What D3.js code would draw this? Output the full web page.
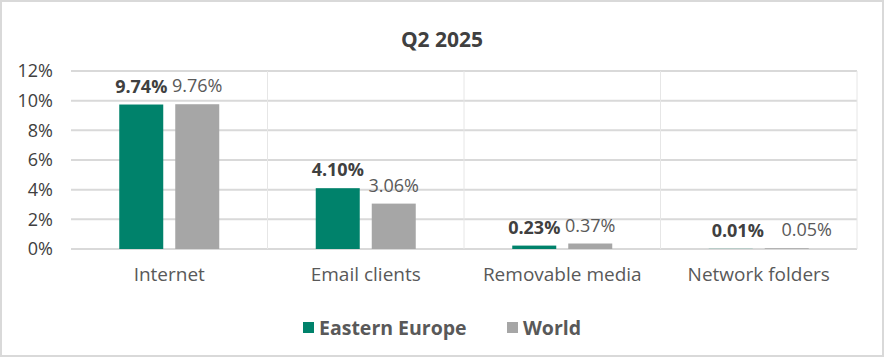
<!DOCTYPE html>
<html><head><meta charset="utf-8">
<script src="https://cdn.jsdelivr.net/npm/d3@7"></script>
<style>body{margin:0;background:#fff}svg{display:block}text{font-family:"Open Sans",sans-serif}</style>
</head><body><svg id="c" width="884" height="357"></svg>
<script>
const title = "Q2 2025";
const categories = ["Internet", "Email clients", "Removable media", "Network folders"];
const seriesNames = ["Eastern Europe", "World"];
const easternEurope = [9.74, 4.10, 0.23, 0.01];
const world = [9.76, 3.06, 0.37, 0.05];
const yTicks = [0, 2, 4, 6, 8, 10, 12];
const colors = ["#00826B", "#A6A6A6"];

const svg = d3.select("#c");
const W = 884, H = 357;
svg.append("rect").attr("x",1).attr("y",1).attr("width",W-2).attr("height",H-2)
  .attr("fill","#fff").attr("stroke","#D9D9D9").attr("stroke-width",2);

const m = {l:71, r:27, t:71, b:108};
const x = d3.scaleBand().domain(categories).range([m.l, W-m.r]);
const y = d3.scaleLinear().domain([0,12]).range([H-m.b, m.t]);
const barW = 44, gap = 12;
const off = (x.bandwidth() - (2*barW+gap))/2;
const barX = (i, si) => x(categories[i]) + off + si*(barW+gap);

// gridlines
svg.append("g").selectAll("line").data(yTicks).join("line")
  .attr("x1", m.l).attr("x2", W-m.r).attr("y1", d=>y(d)).attr("y2", d=>y(d))
  .attr("stroke","#D9D9D9").attr("stroke-width",2);
// vertical category separators
svg.append("g").selectAll("line").data(categories).join("line")
  .attr("x1", (d,i)=> m.l + x.step()*(i+1)).attr("x2",(d,i)=> m.l + x.step()*(i+1))
  .attr("y1", y(12)).attr("y2", y(0)).attr("stroke","#E6E6E6").attr("stroke-width",1);

// y axis
const yAxis = d3.axisLeft(y).tickValues(yTicks).tickFormat(d=>d+"%").tickSize(0).tickPadding(18);
const ga = svg.append("g").attr("transform",`translate(${m.l},0)`).call(yAxis);
ga.select(".domain").remove();
ga.selectAll("text").attr("font-size",18).attr("fill","#404040").attr("font-family","Open Sans");

// x axis labels
const xAxis = d3.axisBottom(x).tickSize(0).tickPadding(19);
const gx = svg.append("g").attr("transform",`translate(0,${y(0)})`).call(xAxis);
gx.select(".domain").remove();
gx.selectAll("text").attr("font-size",19).attr("fill","#595959").attr("font-family","Open Sans");

const series = [easternEurope, world];
series.forEach((vals, si) => {
  const g = svg.append("g");
  g.selectAll("rect").data(vals).join("rect")
    .attr("x",(d,i)=> barX(i, si))
    .attr("y", d=>y(d)).attr("width", barW).attr("height", d=>y(0)-y(d))
    .attr("fill", colors[si]);
  g.selectAll("text").data(vals).join("text")
    .attr("x",(d,i)=> barX(i, si) + barW/2 + (d<0.1 ? (si===0?7:20) : 0))
    .attr("y", d=>y(d) - 12)
    .attr("text-anchor","middle")
    .attr("font-size",18)
    .attr("font-weight", si===0 ? 700 : 400)
    .attr("fill", si===0 ? "#404040" : "#595959")
    .text(d=>d.toFixed(2)+"%");
});

// title
svg.append("text").attr("x", W/2).attr("y", 47).attr("text-anchor","middle")
  .attr("font-size",21).attr("font-weight",700).attr("fill","#404040").text(title);

// legend
const lg = svg.append("g");
const legX = [303, 507];
seriesNames.forEach((n,i)=>{
  lg.append("rect").attr("x",legX[i]).attr("y",322).attr("width",11).attr("height",11).attr("fill",colors[i]);
  lg.append("text").attr("x",legX[i]+16).attr("y",335).attr("font-size",19.5).attr("font-weight",700)
    .attr("fill","#595959").text(n);
});
</script></body></html>
